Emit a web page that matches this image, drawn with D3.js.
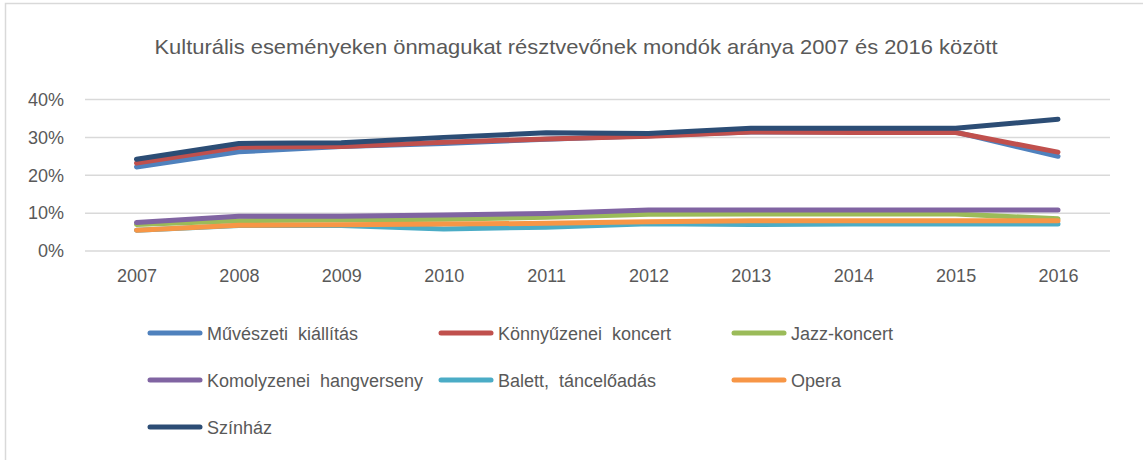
<!DOCTYPE html>
<html>
<head>
<meta charset="utf-8">
<script src="https://cdn.jsdelivr.net/npm/d3@7"></script>
<style>
  body { margin: 0; background: #fff; }
  text { font-family: "Liberation Sans", Arial, sans-serif; fill: #595959; }
</style>
</head>
<body>
<svg></svg>
<script>
let svgWidth = 1143
let svgHeight = 460

let years = ['2007', '2008', '2009', '2010', '2011', '2012', '2013', '2014', '2015', '2016']
let yTicks = [0, 0.1, 0.2, 0.3, 0.4]

let seriesNames = ['Művészeti kiállítás', 'Könnyűzenei koncert', 'Jazz-koncert',
  'Komolyzenei hangverseny', 'Balett, táncelőadás', 'Opera', 'Színház']
let seriesColors = ['#4f81bd', '#c0504d', '#9bbb59', '#8064a2', '#4bacc6', '#f79646', '#2c4d75']

let muveszeti = [0.222, 0.262, 0.276, 0.284, 0.295, 0.304, 0.314, 0.314, 0.314, 0.250]
let konnyu = [0.232, 0.274, 0.276, 0.287, 0.296, 0.303, 0.314, 0.313, 0.313, 0.261]
let jazz = [0.070, 0.080, 0.082, 0.084, 0.089, 0.097, 0.098, 0.098, 0.098, 0.085]
let komoly = [0.075, 0.092, 0.092, 0.095, 0.099, 0.108, 0.108, 0.108, 0.108, 0.108]
let balett = [0.055, 0.067, 0.067, 0.058, 0.063, 0.072, 0.070, 0.071, 0.071, 0.071]
let opera = [0.055, 0.068, 0.069, 0.071, 0.073, 0.077, 0.080, 0.080, 0.080, 0.080]
let szinhaz = [0.242, 0.284, 0.286, 0.300, 0.312, 0.310, 0.324, 0.324, 0.324, 0.348]

let seriesData = [muveszeti, konnyu, jazz, komoly, balett, opera, szinhaz]

let svg = d3.select('svg').attr('width', svgWidth).attr('height', svgHeight)

// chart frame
svg.append('rect')
  .attr('x', 5.5).attr('y', 3.5)
  .attr('width', svgWidth + 20).attr('height', svgHeight + 20)
  .attr('fill', 'none').attr('stroke', '#d9d9d9').attr('stroke-width', 1.5)

svg.append('text')
  .attr('x', 576).attr('y', 54)
  .attr('text-anchor', 'middle')
  .attr('font-size', 21)
  .attr('textLength', 843).attr('lengthAdjust', 'spacingAndGlyphs')
  .text('Kulturális eseményeken önmagukat résztvevőnek mondók aránya 2007 és 2016 között')

let xScale = d3.scalePoint().domain(years).range([136.5, 1058]).padding(0)
let yScale = d3.scaleLinear().domain([0, 0.4]).range([251, 99.5])

// gridlines
svg.append('g')
  .selectAll('line')
  .data(yTicks)
  .enter()
  .append('line')
  .attr('x1', 85).attr('x2', 1110)
  .attr('y1', d => yScale(d)).attr('y2', d => yScale(d))
  .attr('stroke', '#d9d9d9').attr('stroke-width', 1.5)

let yAxis = d3.axisLeft(yScale).tickValues(yTicks).tickFormat(d3.format('.0%')).tickSize(0).tickPadding(0)
let gy = svg.append('g').attr('transform', 'translate(64, 0)').call(yAxis)
gy.select('.domain').remove()
gy.selectAll('text').attr('font-size', 18).attr('fill', '#595959').style('font-family', '"Liberation Sans", Arial, sans-serif')

let xAxis = d3.axisBottom(xScale).tickSize(0).tickPadding(0)
let gx = svg.append('g').attr('transform', 'translate(0, 269)').call(xAxis)
gx.select('.domain').remove()
gx.selectAll('text').attr('font-size', 18).attr('fill', '#595959').style('font-family', '"Liberation Sans", Arial, sans-serif')

let line = d3.line()
  .x((d, i) => xScale(years[i]))
  .y(d => yScale(d))

svg.append('g')
  .selectAll('path')
  .data(seriesData)
  .enter()
  .append('path')
  .attr('d', line)
  .attr('fill', 'none')
  .attr('stroke', (d, i) => seriesColors[i])
  .attr('stroke-width', 5)
  .attr('stroke-linecap', 'round')
  .attr('stroke-linejoin', 'round')

// legend, three columns
let legend = svg.append('g')
  .selectAll('g')
  .data(seriesNames)
  .enter()
  .append('g')
  .attr('transform', (d, i) => 'translate(' + [150, 441, 734][i % 3] + ',' + (333 + 47 * Math.floor(i / 3)) + ')')

legend.append('line')
  .attr('x1', 0).attr('x2', 50)
  .attr('stroke', (d, i) => seriesColors[i])
  .attr('stroke-width', 5)
  .attr('stroke-linecap', 'round')

legend.append('text')
  .attr('x', 57).attr('y', 7)
  .attr('font-size', 18)
  .attr('word-spacing', 5)
  .text(d => d)
</script>
</body>
</html>
